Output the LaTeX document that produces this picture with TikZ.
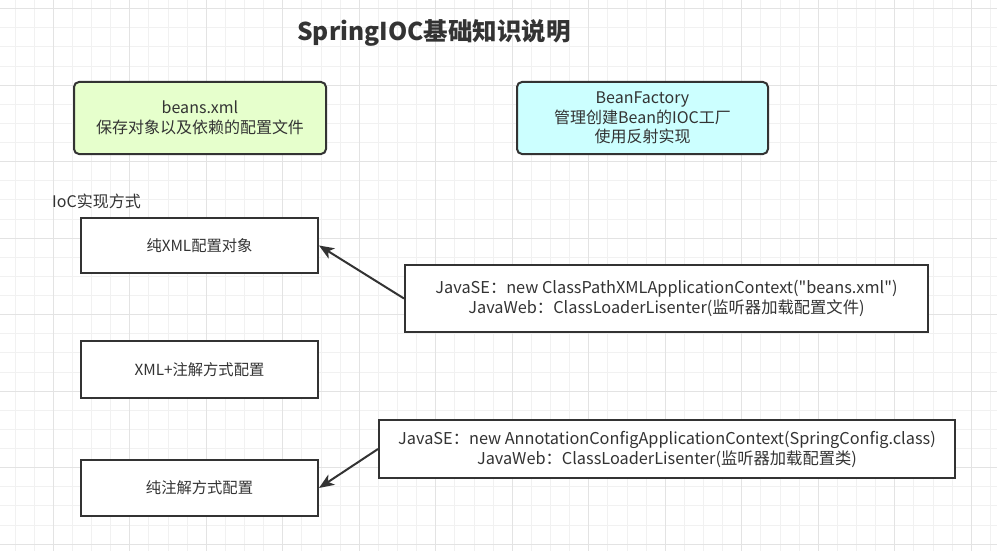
\documentclass[tikz,border=0pt]{standalone}
\usepackage{fontspec}
\newfontfamily\cjkfont{Noto Sans CJK SC}
\usetikzlibrary{positioning,arrows.meta}
\definecolor{edgegray}{HTML}{333333}
\definecolor{textgray}{HTML}{333333}
\definecolor{gridminor}{HTML}{F1F1F1}
\definecolor{gridmajor}{HTML}{E3E3E3}
\definecolor{beangreen}{HTML}{E6FFCC}
\definecolor{factorycyan}{HTML}{CCFFFF}

\begin{document}
\begin{tikzpicture}[x=1pt,y=-1pt,
  box/.style={draw=edgegray,line width=2pt,fill=white,text=textgray,align=center,inner sep=0pt,font=\cjkfont\fontsize{15.3}{20}\selectfont},
  roundbox/.style={box,rounded corners=5pt,font=\cjkfont\fontsize{16}{19.7}\selectfont},
  ctxbox/.style={box,font=\cjkfont\fontsize{16.3}{20}\selectfont},
  arr/.style={draw=edgegray,line width=2pt,-{Stealth[length=15pt,width=12pt,inset=4pt]}}]
\useasboundingbox (0,0) rectangle (997,551);
\fill[white] (0,0) rectangle (997,551);
% grid
\foreach \i in {0,...,52} {\draw[gridminor,line width=1pt] ({15.05+19.125*\i},0) -- ++(0,551);}
\foreach \j in {0,...,28} {\draw[gridminor,line width=1pt] (0,{8.7+19.125*\j}) -- ++(997,0);}
\foreach \i in {0,...,12} {\draw[gridmajor,line width=1pt] ({53.3+76.5*\i},0) -- ++(0,551);}
\foreach \j in {0,...,7} {\draw[gridmajor,line width=1pt] (0,{8.7+76.5*\j}) -- ++(997,0);}
% title and top boxes
\node[text=textgray,font=\cjkfont\fontsize{24.5}{28}\selectfont\bfseries] (title) at (434,33) {SpringIOC基础知识说明};
\node[roundbox,fill=beangreen,minimum width=252pt,minimum height=72pt] (beansxml) at (200,118) {beans.xml\\保存对象以及依赖的配置文件};
\node[roundbox,fill=factorycyan,minimum width=251pt,minimum height=72pt] (beanfactory) at (642.5,118) {BeanFactory\\管理创建Bean的IOC工厂\\使用反射实现};
% ways of IoC
\node[text=textgray,font=\cjkfont\fontsize{16}{19}\selectfont,anchor=west,inner sep=0pt] (ioclabel) at (52,201) {IoC实现方式};
\node[box,minimum width=237pt,minimum height=55pt] (purexml) at (199.5,245.5) {纯XML配置对象};
\node[box,minimum width=237pt,minimum height=57pt] (xmlanno) at (199.5,369.5) {XML+注解方式配置};
\node[box,minimum width=237pt,minimum height=56pt] (pureanno) at (199.5,488) {纯注解方式配置};
% contexts
\node[ctxbox,minimum width=523pt,minimum height=67pt] (xmlctx) at (666.5,298.5) {JavaSE：new ClassPathXMLApplicationContext("beans.xml")\\JavaWeb：ClassLoaderLisenter(监听器加载配置文件)};
\node[ctxbox,minimum width=576pt,minimum height=58pt] (annoctx) at (667,449) {JavaSE：new AnnotationConfigApplicationContext(SpringConfig.class)\\JavaWeb：ClassLoaderLisenter(监听器加载配置类)};
\draw[arr] (xmlctx.west) -- (purexml.east);
\draw[arr] (annoctx.west) -- (pureanno.east);
\end{tikzpicture}
\end{document}
